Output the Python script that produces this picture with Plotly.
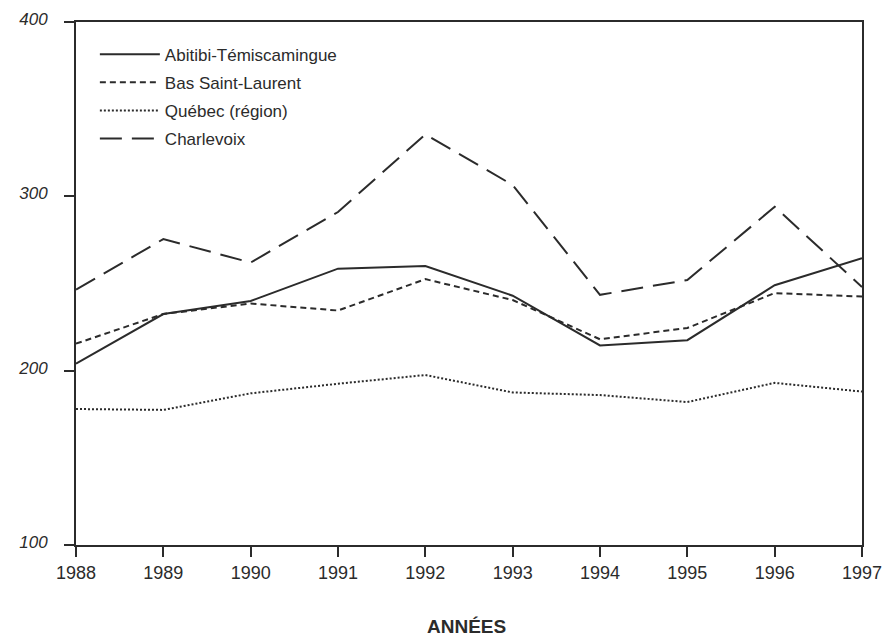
import plotly.graph_objects as go

years = [1988, 1989, 1990, 1991, 1992, 1993, 1994, 1995, 1996, 1997]
abitibi = [204, 232.5, 240, 258.5, 260, 243, 214.5, 217.5, 249, 264.5]
bas_saint_laurent = [215.5, 232.5, 238.5, 234.5, 252.5, 240.5, 218, 224.5, 244.5, 242.5]
quebec_region = [178, 177.5, 187, 192.5, 197.5, 187.5, 186, 182, 193, 188]
charlevoix = [246.5, 275.5, 262, 291, 335.5, 306.5, 243.5, 252, 294, 248]

y_ticks = [100, 200, 300, 400]

series = [
    ("Abitibi-Témiscamingue", abitibi, "solid"),
    ("Bas Saint-Laurent", bas_saint_laurent, "6px,4px"),
    ("Québec (région)", quebec_region, "2px,2px"),
    ("Charlevoix", charlevoix, "22px,10px"),
]

FONT = "Liberation Sans, Arial, sans-serif"
INK = "#2b2b2b"

fig = go.Figure()
for name, vals, dash in series:
    fig.add_trace(go.Scatter(
        x=years, y=vals, mode="lines", name=name, legendgroup=name,
        line=dict(color=INK, width=2, dash=dash),
    ))

fig.update_layout(
    width=888, height=628,
    margin=dict(l=68, r=34, t=14, b=91, autoexpand=False),
    paper_bgcolor="white", plot_bgcolor="white",
    font=dict(family=FONT, color=INK),
    showlegend=True,
    legend=dict(
        x=0.024, y=0.972, xanchor="left", yanchor="top",
        bgcolor="rgba(0,0,0,0)", borderwidth=0,
        font=dict(size=17, family=FONT, color=INK),
        itemwidth=60, tracegroupgap=3,
    ),
    xaxis=dict(
        range=[1988, 1997], tickmode="array", tickvals=years,
        ticktext=[str(y) for y in years],
        showgrid=False, zeroline=False, automargin=False,
        showline=True, linecolor=INK, linewidth=2, mirror=True,
        ticks="outside", ticklen=10, tickwidth=2, tickcolor=INK,
        tickfont=dict(size=18, family=FONT, color=INK),
    ),
    yaxis=dict(
        range=[100, 400], tickmode="array", tickvals=y_ticks,
        showgrid=False, zeroline=False, automargin=False,
        showline=True, linecolor=INK, linewidth=2, mirror=True,
        ticks="outside", ticklen=10, tickwidth=2, tickcolor=INK,
        tickfont=dict(size=17, family=FONT, color=INK, style="italic"),
        ticklabelstandoff=13, ticklabelshift=-3, ticklabeloverflow="allow",
    ),
    annotations=[dict(
        text="<b>ANNÉES</b>", xref="paper", yref="paper",
        x=0.497, y=0, yshift=-81, xanchor="center", yanchor="middle",
        showarrow=False, font=dict(size=19, family=FONT, color=INK),
    )],
)

fig.write_html("out.html")
